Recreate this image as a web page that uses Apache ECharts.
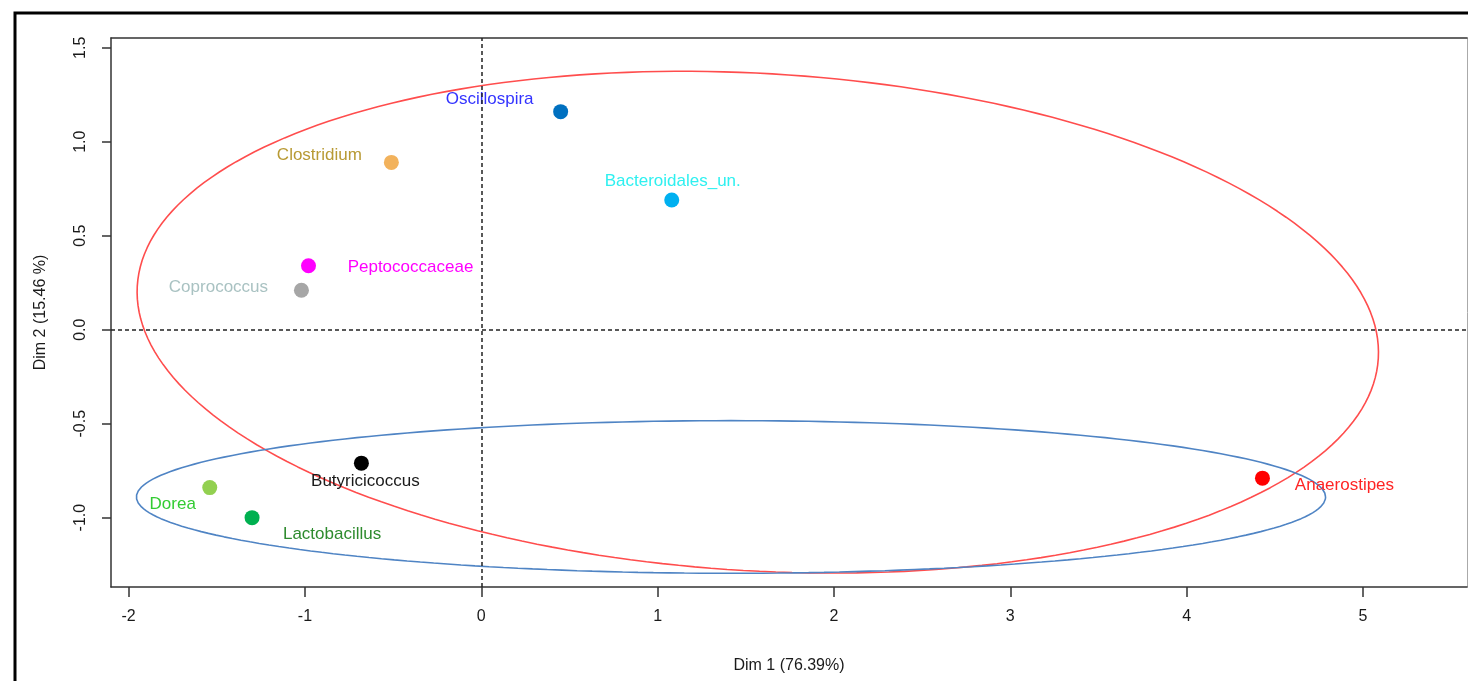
<!DOCTYPE html>
<html>
<head>
<meta charset="utf-8">
<script src="https://cdn.jsdelivr.net/npm/echarts@6/dist/echarts.min.js"></script>
<style>
html,body{margin:0;padding:0;background:#fff;}
#chart{width:1468px;height:681px;}
</style>
</head>
<body>
<div id="chart"></div>
<script>
// ---- data ----
const taxa = ['Oscillospira','Clostridium','Bacteroidales_un.','Peptococcaceae','Coprococcus','Butyricicoccus','Dorea','Lactobacillus','Anaerostipes'];
const dim1 = [0.45, -0.51, 1.08, -0.98, -1.02, -0.68, -1.54, -1.30, 4.43];
const dim2 = [1.16, 0.89, 0.69, 0.34, 0.21, -0.71, -0.84, -1.00, -0.79];
const xTicks = [-2, -1, 0, 1, 2, 3, 4, 5];
const yTicks = [-1.0, -0.5, 0.0, 0.5, 1.0, 1.5];
const xTitle = 'Dim 1 (76.39%)';
const yTitle = 'Dim 2 (15.46 %)';
// ellipse parameters (centre and two conjugate half-diameters, data units)
const redEllipse  = {cx: 1.568, cy: 0.04,  ux: 3.519, uy: -0.192, vx: -0.082, vy: -1.321};
const blueEllipse = {cx: 1.416, cy: -0.89, ux: 3.372, uy: 0,      vx: 0,      vy: 0.406};

// ---- styles ----
const pointColors = ['#0070c0','#f2b25c','#00b0f0','#ff00ff','#a6a6a6','#000000','#92d050','#00b050','#ff0000'];
const labelColors = ['#3333ff','#b89a34','#2ef0f0','#ff00ff','#a9c2c2','#1a1a1a','#33cc33','#2e8b2e','#ff2424'];
const labelOffsets = [[-71,-12],[-72,-7],[1,-19],[102,2],[-83,-3],[4,18],[-37,17],[80,17],[82,7]];

function ellipsePoints(e){
  const pts = [];
  const n = 240;
  for(let i=0;i<=n;i++){
    const t = 2*Math.PI*i/n;
    pts.push([e.cx + e.ux*Math.cos(t) + e.vx*Math.sin(t), e.cy + e.uy*Math.cos(t) + e.vy*Math.sin(t)]);
  }
  return pts;
}

const xMin=-2.1, xMax=5.59, yMin=-1.369, yMax=1.552;
const FONT = 'Liberation Sans, Arial, sans-serif';

const chart = echarts.init(document.getElementById('chart'), null, {renderer:'canvas'});
chart.setOption({
  animation:false,
  backgroundColor:'#fff',
  grid:{left:111, top:38, right:1, bottom:94},
  graphic:[{
    type:'rect', shape:{x:15, y:13, width:1500, height:700},
    style:{fill:'none', stroke:'#000', lineWidth:3}, silent:true, z:100
  }],
  xAxis:[{
    type:'value', min:xMin, max:xMax, position:'bottom',
    name:xTitle, nameLocation:'middle', nameGap:71,
    nameTextStyle:{fontFamily:FONT, fontSize:16, color:'#1a1a1a'},
    splitLine:{show:false},
    axisLine:{show:true, onZero:false, lineStyle:{color:'#333', width:1.5}},
    axisTick:{show:true, customValues:xTicks, length:10, lineStyle:{color:'#333', width:1.5}},
    axisLabel:{customValues:xTicks, margin:22, fontFamily:FONT, fontSize:16, color:'#1a1a1a', formatter:v=>String(v)}
  },{
    type:'value', min:xMin, max:xMax, position:'top',
    splitLine:{show:false},
    axisLine:{show:true, onZero:false, lineStyle:{color:'#333', width:1.5}},
    axisTick:{show:false}, axisLabel:{show:false}
  }],
  yAxis:[{
    type:'value', min:yMin, max:yMax, position:'left',
    name:yTitle, nameLocation:'middle', nameGap:62, nameRotate:90,
    nameTextStyle:{fontFamily:FONT, fontSize:16, color:'#1a1a1a'},
    splitLine:{show:false},
    axisLine:{show:true, onZero:false, lineStyle:{color:'#333', width:1.5}},
    axisTick:{show:true, customValues:yTicks, length:9, lineStyle:{color:'#333', width:1.5}},
    axisLabel:{customValues:yTicks, rotate:90, margin:22, fontFamily:FONT, fontSize:16, color:'#1a1a1a', formatter:v=>v.toFixed(1)}
  },{
    type:'value', min:yMin, max:yMax, position:'right',
    splitLine:{show:false},
    axisLine:{show:true, onZero:false, lineStyle:{color:'#aaa', width:1}},
    axisTick:{show:false}, axisLabel:{show:false}
  }],
  series:[{
    type:'line', xAxisIndex:0, yAxisIndex:0, data:ellipsePoints(redEllipse),
    showSymbol:false, symbol:'none', silent:true, z:1,
    lineStyle:{color:'#ff4d4d', width:1.6}
  },{
    type:'line', xAxisIndex:0, yAxisIndex:0, data:ellipsePoints(blueEllipse),
    showSymbol:false, symbol:'none', silent:true, z:1,
    lineStyle:{color:'#4f84c4', width:1.6}
  },{
    type:'scatter', xAxisIndex:0, yAxisIndex:0, symbolSize:15, z:3,
    itemStyle:{opacity:1},
    data: taxa.map((n,i)=>({
      name:n, value:[dim1[i], dim2[i]],
      itemStyle:{color:pointColors[i], opacity:1},
      label:{color:labelColors[i], offset:labelOffsets[i]}
    })),
    label:{show:true, position:'inside', align:'center', verticalAlign:'middle',
      formatter:'{b}', fontFamily:FONT, fontSize:17},
    markLine:{
      silent:true, symbol:['none','none'], label:{show:false},
      lineStyle:{color:'#222', type:[4,3], width:1.5},
      data:[{xAxis:0},{yAxis:0}]
    }
  }]
});
</script>
</body>
</html>
